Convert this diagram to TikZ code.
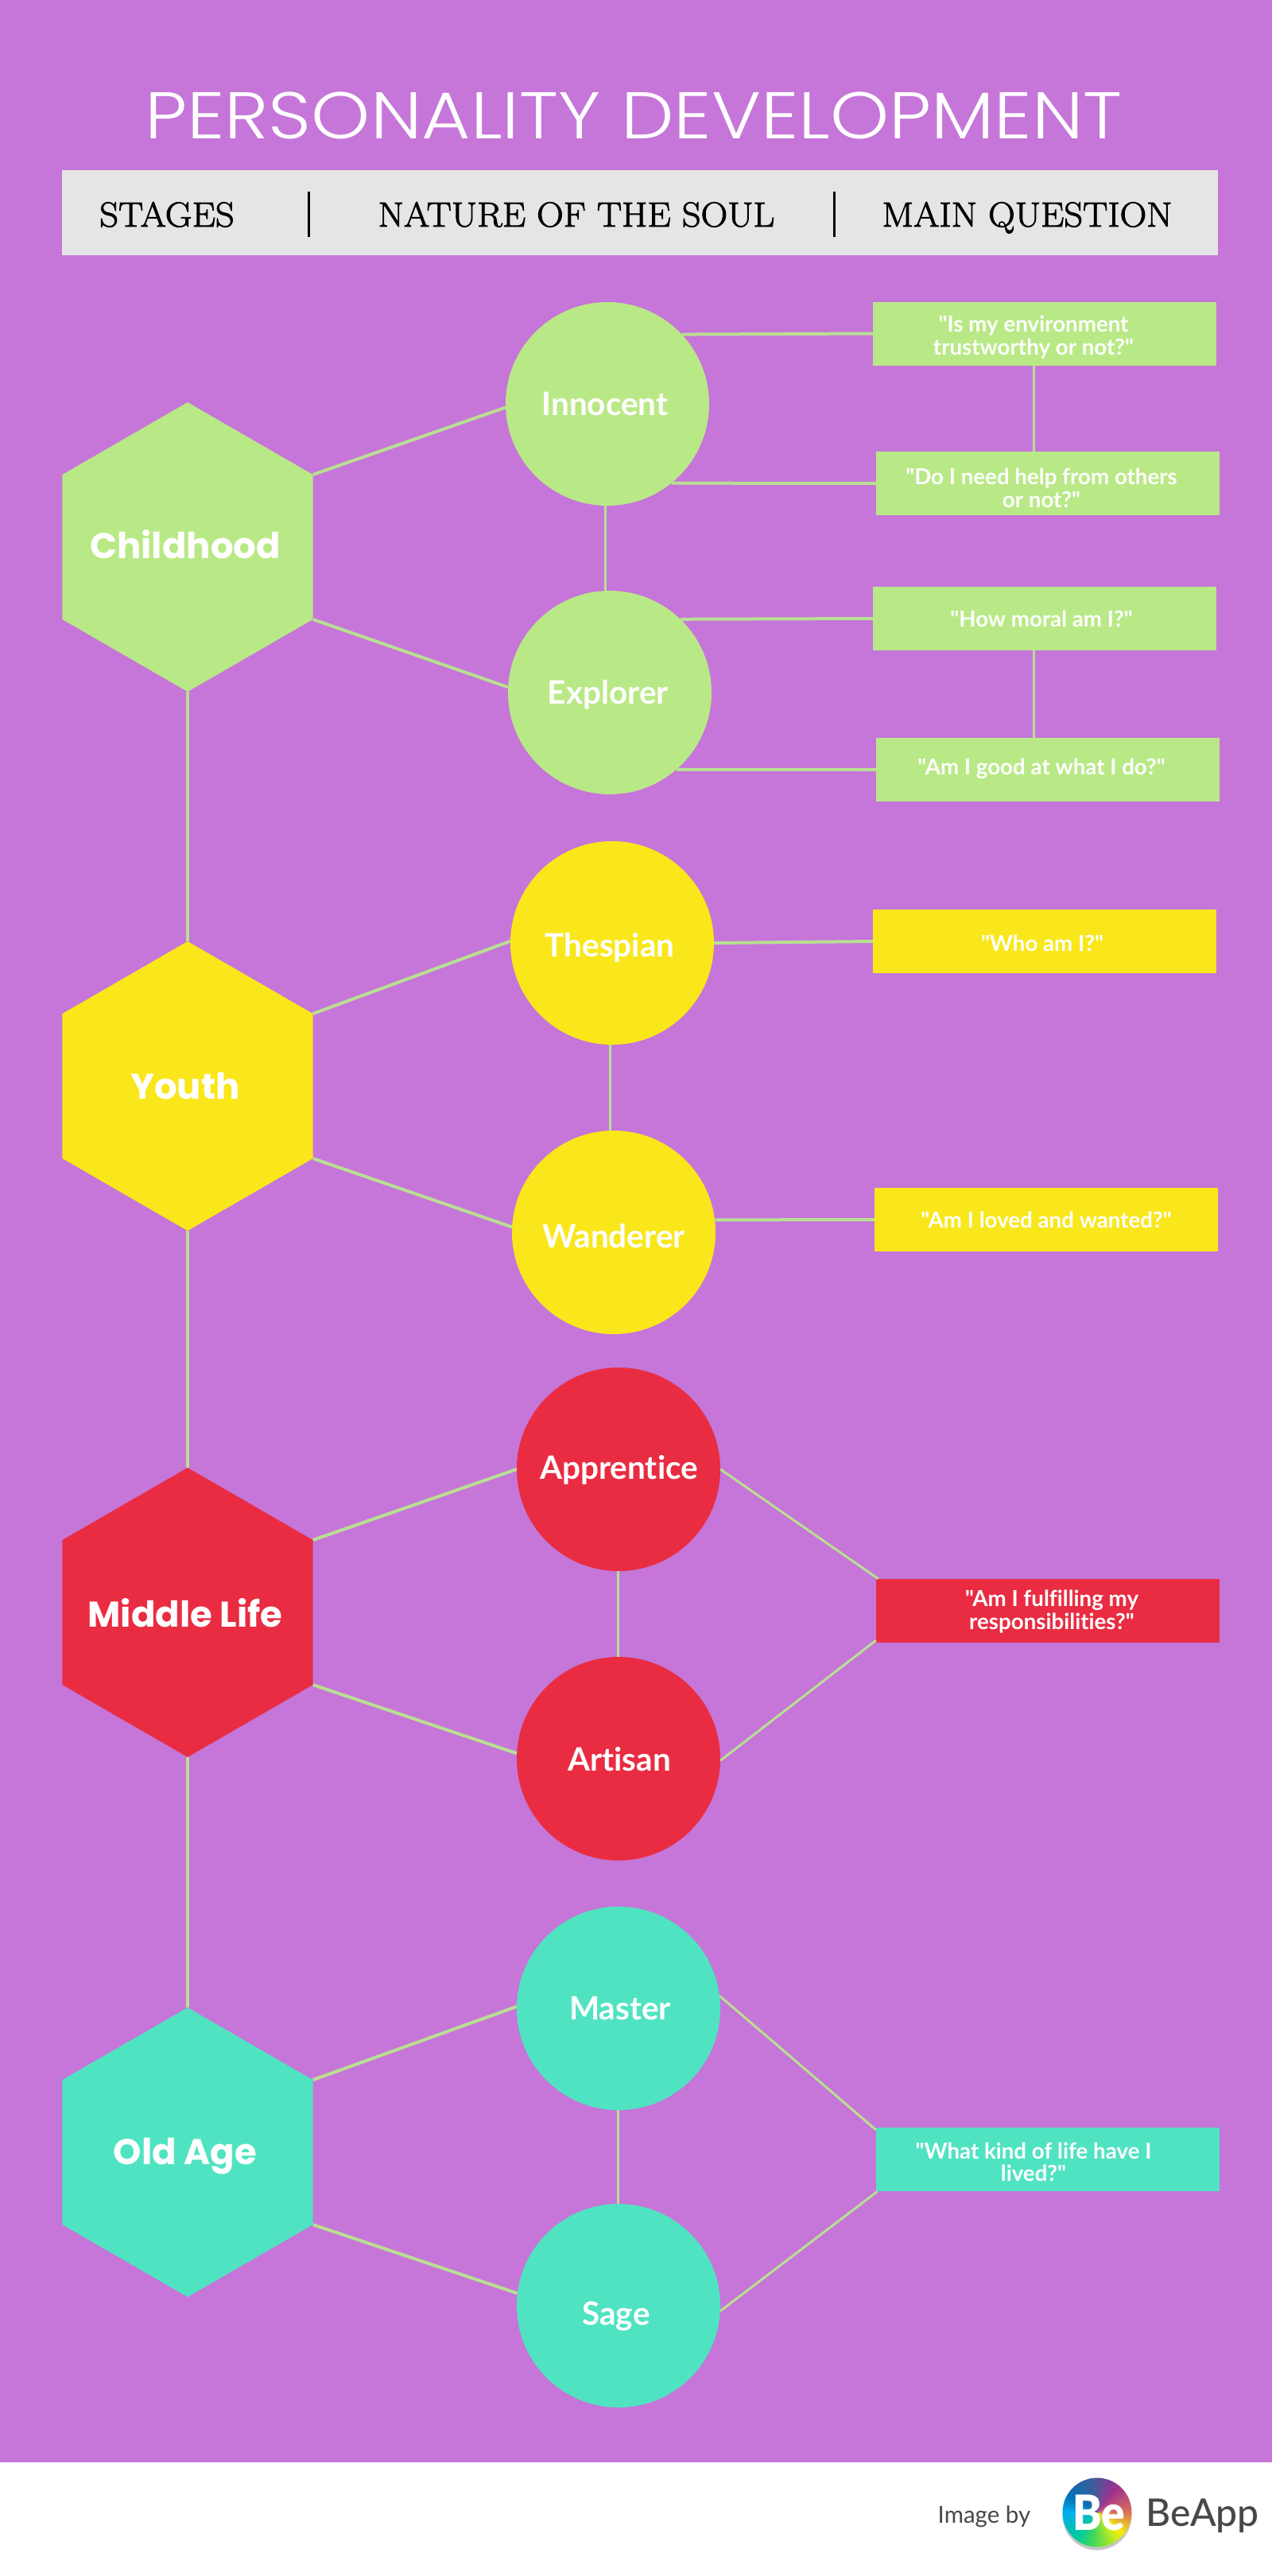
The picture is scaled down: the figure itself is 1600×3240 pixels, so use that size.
\documentclass[tikz,border=0pt]{standalone}
\usepackage{fontspec}
\usetikzlibrary{shapes.geometric}
\setmainfont{Lato}
\newfontfamily\latof[Ligatures=CommonOff]{Lato}
\newfontfamily\medf{Lato Medium}
\newfontfamily\blkf[FakeStretch=0.9]{Lato Black}
\newfontfamily\titlefont[FakeStretch=1.135]{Poppins Light}
\newfontfamily\hexfont{Poppins Bold}
\newfontfamily\headfont[FakeBold=2,FakeStretch=1.06]{Latin Modern Roman}
\definecolor{bgc}{HTML}{C576D8}
\definecolor{gc}{HTML}{B9E986}
\definecolor{yc}{HTML}{F9E71C}
\definecolor{rc}{HTML}{E92C42}
\definecolor{tc}{HTML}{50E3C2}
\definecolor{lc}{HTML}{B9DF92}
\definecolor{hc}{HTML}{E5E5E5}
\definecolor{dk}{HTML}{484848}
\tikzset{
 x=1pt,y=-1pt,
 hexa/.style={regular polygon,regular polygon sides=6,shape border rotate=30,minimum size=364pt,inner sep=0pt,fill=#1},
 hexlabel/.style={inner sep=0pt,anchor=base,text=white,font=\hexfont\fontsize{45}{50}\selectfont},
 circ/.style={circle,minimum size=256pt,inner sep=0pt,fill=#1},
 clabel/.style={inner sep=0pt,anchor=base,text=white,font=\latof\fontsize{40.5}{44}\selectfont\bfseries},
 qbox/.style={rectangle,minimum width=432pt,minimum height=80pt,inner sep=0pt,fill=#1},
 qlabel/.style={inner sep=0pt,anchor=base,text=white,align=center,font=\latof\fontsize{27.7}{28.3}\selectfont\bfseries},
 conn/.style={draw=lc,line width=4pt},
 thin conn/.style={draw=lc,line width=3pt},
 headtxt/.style={inner sep=0pt,anchor=base,font=\headfont\fontsize{44}{48}\selectfont},
}
\begin{document}
\begin{tikzpicture}
\useasboundingbox (0,0) rectangle (1600,3240);
\fill[bgc] (0,0) rectangle (1600,3097);
\fill[white] (0,3097) rectangle (1600,3240);
\node[inner sep=0pt,anchor=base,text=white,font=\titlefont\fontsize{83}{90}\selectfont] (title) at (797,174) {PERSONALITY DEVELOPMENT};
\node[fill=hc,minimum width=1454pt,minimum height=107pt,inner sep=0pt] (head) at (805,267.5) {};
\node[headtxt] (h1) at (210,285) {STAGES};
\node[headtxt] (h2) at (725,285) {NATURE OF THE SOUL};
\node[headtxt] (h3) at (1292,285) {MAIN QUESTION};
\coordinate (d1a) at (388,241); \coordinate (d1b) at (388,298);
\coordinate (d2a) at (1049,241); \coordinate (d2b) at (1049,298);
\draw[line width=3pt,black] (d1a) -- (d1b);
\draw[line width=3pt,black] (d2a) -- (d2b);
% hexagons
\node[hexa=gc] (hA) at (236,688) {};
\node[hexa=yc] (hB) at (236,1366) {};
\node[hexa=rc] (hC) at (236,2028) {};
\node[hexa=tc] (hD) at (236,2707) {};
\node[hexlabel] (lA) at (233,702) {Childhood};
\node[hexlabel] (lB) at (233,1382) {Youth};
\node[hexlabel] (lC) at (233,2046) {Middle Life};
\node[hexlabel] (lD) at (233,2722) {Old Age};
% circles
\node[circ=gc] (c1) at (764,508) {};
\node[circ=gc] (c2) at (767,871) {};
\node[circ=yc] (c3) at (770,1186) {};
\node[circ=yc] (c4) at (772,1550) {};
\node[circ=rc] (c5) at (778,1848) {};
\node[circ=rc] (c6) at (778,2212) {};
\node[circ=tc] (c7) at (778,2526) {};
\node[circ=tc] (c8) at (778,2900) {};
\node[clabel] (t1) at (761,522) {Innocent};
\node[clabel] (t2) at (765,885) {Explorer};
\node[clabel] (t3) at (767,1203.6) {Thespian};
\node[clabel] (t4) at (772,1569.6) {Wanderer};
\node[clabel] (t5) at (778.6,1860.6) {Apprentice};
\node[clabel] (t6) at (779,2227) {Artisan};
\node[clabel] (t7) at (780,2540) {Master};
\node[clabel] (t8) at (775,2924) {Sage};
% question boxes
\node[qbox=gc] (q1) at (1314,419.5) {};
\node[qbox=gc] (q2) at (1318,608) {};
\node[qbox=gc] (q3) at (1314,778) {};
\node[qbox=gc] (q4) at (1318,968) {};
\node[qbox=yc] (q5) at (1314,1184) {};
\node[qbox=yc] (q6) at (1316,1534) {};
\node[qbox=rc] (q7) at (1318,2026) {};
\node[qbox=tc] (q8) at (1318,2716) {};
\node[qlabel] (a1) at (1300,446) {"Is my environment\\trustworthy or not?"};
\node[qlabel] (a2) at (1310,638) {"Do I need help from others\\or not?"};
\node[qlabel] (a3) at (1310,788) {"How moral am I?"};
\node[qlabel] (a4) at (1310,974) {"Am I good at what I do?"};
\node[qlabel] (a5) at (1311,1196) {"Who am I?"};
\node[qlabel] (a6) at (1316,1544) {"Am I loved and wanted?"};
\node[qlabel] (a7) at (1323,2049) {"Am I fulfilling my\\responsibilities?"};
\node[qlabel] (a8) at (1300,2743.6) {"What kind of life have I\\lived?"};
% connectors
\draw[conn] (hA.30) -- (c1.182);
\draw[conn] (hA.-30) -- (c2.177);
\draw[conn] (hB.30) -- (c3.179);
\draw[conn] (hB.-30) -- (c4.177.6);
\draw[conn] (hC.30) -- (c5.180);
\draw[conn] (hC.-30) -- (c6.177.8);
\draw[conn] (hD.30) -- (c7.179);
\draw[conn] (hD.-30) -- (c8.173.7);
\draw[conn] (hA.-90) -- (hB.90);
\draw[conn] (hB.-90) -- (hC.90);
\draw[conn] (hC.-90) -- (hD.90);
\draw[thin conn] ([xshift=-3pt]c1.south) -- ([xshift=-6pt]c2.north);
\draw[thin conn] ([xshift=-3pt]c3.south) -- ([xshift=-5pt]c4.north);
\draw[thin conn] ([xshift=-1pt]c5.south) -- ([xshift=-1pt]c6.north);
\draw[thin conn] ([xshift=-1pt]c7.south) -- ([xshift=-1pt]c8.north);
\draw[conn] (c1.43) -- (q1.west);
\draw[conn] (c1.-51) -- (q2.west);
\draw[conn] (c2.46) -- (q3.west);
\draw[conn] (c2.-49) -- (q4.west);
\draw[conn] (c3.0.6) -- (q5.west);
\draw[conn] (c4.7) -- (q6.west);
\draw[thin conn] (c5.0) -- ([xshift=3pt]q7.north west);
\draw[thin conn] (c6.-1) -- ([yshift=3pt]q7.south west);
\draw[thin conn] (c7.7) -- ([yshift=-3pt]q8.north west);
\draw[thin conn] (c8.-3) -- ([xshift=2pt]q8.south west);
\draw[thin conn] ([xshift=-14pt]q1.south) -- ([xshift=-18pt]q2.north);
\draw[thin conn] ([xshift=-14pt]q3.south) -- ([xshift=-18pt]q4.north);
% footer
\node[inner sep=0pt,anchor=base,text=dk,font=\latof\fontsize{29.5}{33}\selectfont] (img) at (1238,3173) {Image by};
\node[inner sep=0pt,anchor=base,text=dk,font=\medf\fontsize{48}{52}\selectfont] (ba) at (1512.5,3177) {BeApp};
\fill[black!45,opacity=.5] (1380,3164) circle (43.5pt);
\foreach \a/\b/\ca/\cb in {-180/-150/00AEEF/0072B5,-150/-100/0072B5/3A5C9C,-100/-50/3A5C9C/A0308F,-50/0/A0308F/D9705A,0/40/D9705A/F5F00A,40/100/F5F00A/3BD85A,100/130/3BD85A/00C8A0,130/180/00C8A0/00AEEF}{
 \definecolor{ca}{HTML}{\ca}\definecolor{cb}{HTML}{\cb}
 \pgfmathsetmacro{\stp}{(\b-\a)/10}
 \foreach \i in {0,...,9}{
  \pgfmathsetmacro{\st}{\a+\i*\stp}
  \pgfmathsetmacro{\en}{\st+\stp+.5}
  \pgfmathtruncatemacro{\pc}{100-\i*10-5}
  \fill[ca!\pc!cb] (1380,3160) -- ++(\st:43.5pt and -43.5pt) arc[start angle=\st,end angle=\en,x radius=43.5pt,y radius=-43.5pt] -- cycle;
 }
}
\node[inner sep=0pt,anchor=base,text=white,font=\blkf\fontsize{61}{66}\selectfont] (be) at (1382,3182) {Be};
\end{tikzpicture}
\end{document}
